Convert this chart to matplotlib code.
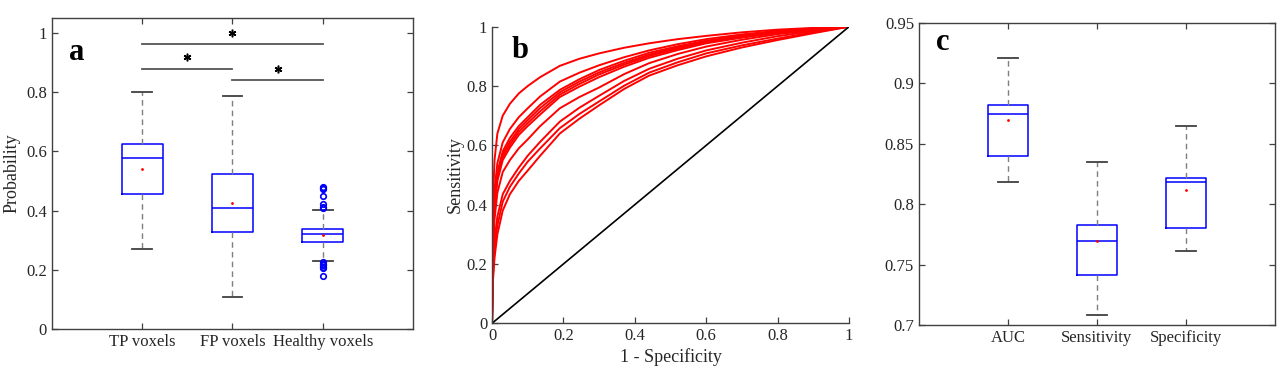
import numpy as np
import matplotlib
matplotlib.use("Agg")
import matplotlib.pyplot as plt

plt.rcParams['font.family'] = ['Liberation Serif', 'DejaVu Serif']

# ---------------- Panel a data ----------------
groups_a = ["TP voxels", "FP voxels", "Healthy voxels"]
a_whislo = [0.270, 0.107, 0.229]
a_q1 = [0.457, 0.329, 0.295]
a_med = [0.579, 0.409, 0.320]
a_q3 = [0.623, 0.523, 0.338]
a_whishi = [0.800, 0.788, 0.402]
a_mean = [0.540, 0.427, 0.318]
a_fliers_tp = []
a_fliers_fp = []
a_fliers_healthy = [0.479, 0.476, 0.473, 0.449, 0.422, 0.413, 0.408,
                    0.225, 0.219, 0.215, 0.211, 0.205, 0.179]
sig_pairs = [(1, 3), (1, 2), (2, 3)]
sig_line_y = [0.962, 0.879, 0.840]
sig_star_y = [0.999, 0.920, 0.878]

# ---------------- Panel b data ----------------
fpr = [0, 0.001, 0.003, 0.007, 0.015, 0.03, 0.05, 0.075, 0.1, 0.135, 0.19, 0.245,
       0.3, 0.37, 0.44, 0.52, 0.6, 0.7, 0.8, 0.9, 1.0]
roc_1 = [0, 0.20, 0.42, 0.55, 0.64, 0.70, 0.74, 0.775, 0.80, 0.83, 0.868, 0.892,
         0.91, 0.929, 0.944, 0.958, 0.969, 0.981, 0.99, 0.996, 1]
roc_2 = [0, 0.16, 0.34, 0.45, 0.54, 0.61, 0.655, 0.695, 0.725, 0.765, 0.815, 0.845,
         0.87, 0.897, 0.92, 0.941, 0.958, 0.974, 0.986, 0.994, 1]
roc_3 = [0, 0.15, 0.31, 0.42, 0.51, 0.58, 0.625, 0.665, 0.695, 0.737, 0.787, 0.823,
         0.854, 0.885, 0.912, 0.934, 0.953, 0.97, 0.984, 0.993, 1]
roc_4 = [0, 0.14, 0.30, 0.41, 0.50, 0.57, 0.612, 0.655, 0.685, 0.726, 0.779, 0.815,
         0.846, 0.878, 0.906, 0.93, 0.95, 0.967, 0.982, 0.992, 1]
roc_5 = [0, 0.14, 0.29, 0.40, 0.49, 0.56, 0.602, 0.645, 0.675, 0.715, 0.771, 0.807,
         0.839, 0.872, 0.901, 0.926, 0.947, 0.965, 0.981, 0.991, 1]
roc_6 = [0, 0.13, 0.28, 0.39, 0.48, 0.55, 0.592, 0.635, 0.665, 0.704, 0.763, 0.798,
         0.83, 0.865, 0.895, 0.921, 0.944, 0.963, 0.979, 0.99, 1]
roc_7 = [0, 0.12, 0.25, 0.35, 0.44, 0.51, 0.55, 0.59, 0.62, 0.665, 0.725, 0.763,
         0.795, 0.84, 0.877, 0.908, 0.933, 0.956, 0.975, 0.988, 1]
roc_8 = [0, 0.09, 0.19, 0.28, 0.36, 0.435, 0.48, 0.525, 0.565, 0.612, 0.68, 0.727,
         0.767, 0.817, 0.858, 0.892, 0.92, 0.946, 0.968, 0.985, 1]
roc_9 = [0, 0.08, 0.17, 0.25, 0.33, 0.41, 0.46, 0.505, 0.545, 0.59, 0.658, 0.706,
         0.748, 0.801, 0.845, 0.88, 0.91, 0.937, 0.96, 0.981, 1]
roc_10 = [0, 0.07, 0.15, 0.22, 0.30, 0.38, 0.435, 0.48, 0.515, 0.565, 0.64, 0.69,
          0.735, 0.79, 0.835, 0.87, 0.90, 0.93, 0.955, 0.978, 1]
roc_curves = [roc_1, roc_2, roc_3, roc_4, roc_5, roc_6, roc_7, roc_8, roc_9, roc_10]
chance_x = [0, 1]
chance_y = [0, 1]

# ---------------- Panel c data ----------------
groups_c = ["AUC", "Sensitivity", "Specificity"]
c_whislo = [0.8184, 0.7088, 0.7616]
c_q1 = [0.840, 0.7418, 0.7804]
c_med = [0.8746, 0.7699, 0.8186]
c_q3 = [0.882, 0.7826, 0.8217]
c_whishi = [0.921, 0.8347, 0.8644]
c_mean = [0.8696, 0.7700, 0.8118]

TXT = '#262626'
AX = '#404040'

fig = plt.figure(figsize=(12.86, 3.76), dpi=100)
ax_a = fig.add_axes([0.0404, 0.125, 0.2807, 0.8271])
ax_b = fig.add_axes([0.3826, 0.1402, 0.2776, 0.7888])
ax_c = fig.add_axes([0.7146, 0.1348, 0.2768, 0.8048])


def draw_box(ax, names, wlo, q1, med, q3, whi, mean, fliers):
    stats = []
    for i in range(len(names)):
        stats.append(dict(label=names[i], whislo=wlo[i], q1=q1[i], med=med[i],
                          q3=q3[i], whishi=whi[i], mean=mean[i], fliers=fliers[i]))
    ax.bxp(stats, positions=range(1, len(names) + 1), widths=0.45, capwidths=0.22,
           showmeans=True, showfliers=True,
           boxprops=dict(color='#0000FF', linewidth=1.1),
           medianprops=dict(color='#0000FF', linewidth=1.1),
           whiskerprops=dict(color='#7f7f7f', linewidth=1.0, linestyle=(0, (4, 3))),
           capprops=dict(color='#404040', linewidth=1.3),
           meanprops=dict(marker='.', markersize=2, color='red', markerfacecolor='red',
                          markeredgecolor='red'),
           flierprops=dict(marker='o', markersize=4, markerfacecolor='none',
                           markeredgecolor='#0000FF', markeredgewidth=1.2))


def style(ax, box=True):
    for s in ax.spines.values():
        s.set_color(AX)
        s.set_linewidth(1.0)
    if not box:
        ax.spines['top'].set_visible(False)
        ax.spines['right'].set_visible(False)
    ax.tick_params(direction='in', length=4, width=0.9, color=AX, labelcolor=TXT,
                   labelsize=12, top=box, right=box)


# Panel a
draw_box(ax_a, groups_a, a_whislo, a_q1, a_med, a_q3, a_whishi, a_mean,
         [a_fliers_tp, a_fliers_fp, a_fliers_healthy])
for (p0, p1), ly, sy in zip(sig_pairs, sig_line_y, sig_star_y):
    ax_a.plot([p0, p1], [ly, ly], color='#555555', linewidth=1.3)
    ax_a.plot([(p0 + p1) / 2], [sy], marker=(6, 2, 0), markersize=5.5,
              color='black', markeredgewidth=1.1, linestyle='none')
ax_a.set_xlim(0, 4)
ax_a.set_ylim(0, 1.05)
ax_a.set_yticks([0, 0.2, 0.4, 0.6, 0.8, 1.0])
ax_a.set_yticklabels(["0", "0.2", "0.4", "0.6", "0.8", "1"])
ax_a.set_xticks([1, 2, 3])
ax_a.set_xticklabels(groups_a)
ax_a.set_ylabel("Probability", fontsize=13, color=TXT, labelpad=4)
style(ax_a, box=True)
ax_a.text(0.069, 0.89, "a", transform=ax_a.transAxes, fontsize=22,
          fontweight='bold', ha='center', va='center', color='black')

# Panel b
for curve in roc_curves:
    ax_b.plot(fpr, curve, color='#FF0000', linewidth=1.4)
ax_b.plot(chance_x, chance_y, color='black', linewidth=1.2)
ax_b.set_xlim(0, 1)
ax_b.set_ylim(0, 1)
ticks = [0, 0.2, 0.4, 0.6, 0.8, 1.0]
labels = ["0", "0.2", "0.4", "0.6", "0.8", "1"]
ax_b.set_xticks(ticks)
ax_b.set_xticklabels(labels)
ax_b.set_yticks(ticks)
ax_b.set_yticklabels(labels)
ax_b.set_xlabel("1 - Specificity", fontsize=13, color=TXT, labelpad=3)
ax_b.set_ylabel("Sensitivity", fontsize=13, color=TXT, labelpad=2)
style(ax_b, box=False)
ax_b.text(0.078, 0.921, "b", transform=ax_b.transAxes, fontsize=22,
          fontweight='bold', ha='center', va='center', color='black')

# Panel c
draw_box(ax_c, groups_c, c_whislo, c_q1, c_med, c_q3, c_whishi, c_mean, [[], [], []])
ax_c.set_xlim(0, 4)
ax_c.set_ylim(0.7, 0.95)
ax_c.set_yticks([0.7, 0.75, 0.8, 0.85, 0.9, 0.95])
ax_c.set_yticklabels(["0.7", "0.75", "0.8", "0.85", "0.9", "0.95"])
ax_c.set_xticks([1, 2, 3])
ax_c.set_xticklabels(groups_c)
style(ax_c, box=True)
ax_c.text(0.067, 0.936, "c", transform=ax_c.transAxes, fontsize=22,
          fontweight='bold', ha='center', va='center', color='black')

fig.savefig("out.png", dpi=100)
